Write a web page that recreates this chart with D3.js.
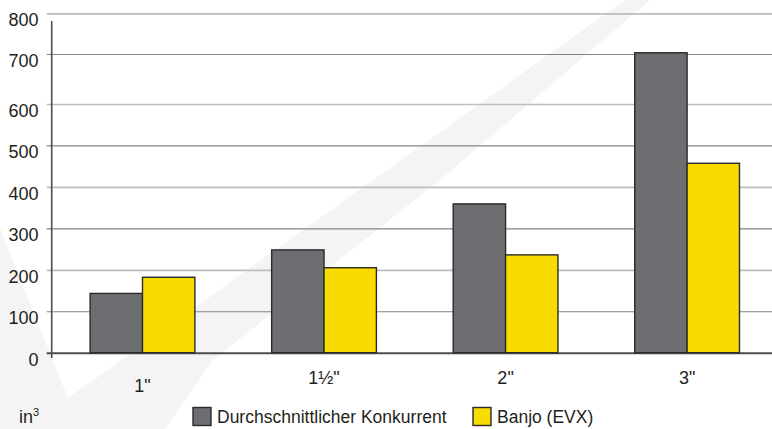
<!DOCTYPE html>
<html><head><meta charset="utf-8">
<script src="https://cdn.jsdelivr.net/npm/d3@7"></script>
<style>
body{margin:0;background:#fff}
svg{display:block}
text{font-family:"Liberation Sans",Arial,Helvetica,sans-serif;fill:#231f20}
</style>
</head><body><svg id="c" width="772" height="429"></svg>
<script>
const categories = ['1"', '1\u00BD"', '2"', '3"'];
const seriesNames = ["Durchschnittlicher Konkurrent", "Banjo (EVX)"];
const competitor = [143, 248, 359, 703];
const banjo = [182, 205, 236, 457];
const yTicks = [0, 100, 200, 300, 400, 500, 600, 700, 800];
const unitLabel = "in";
const unitSup = "3";
const colors = ["#6d6e71", "#f8db00"];

const W = 772, H = 429;
const svg = d3.select("#c");

// faint background watermark
svg.append("polygon")
  .attr("points", [[0,228],[68,398],[625,0],[650,0],[440,180],[213,360],[165,429],[0,429]].map(p=>p.join(",")).join(" "))
  .attr("fill", "#f4f4f4");

const y = d3.scaleLinear().domain([0, 600, 700, 800]).range([352.7, 104, 54, 13.3]);
const x0 = d3.scaleBand().domain(categories).range([52, 777.6]).paddingInner(0.423).paddingOuter(0.21);
const x1 = d3.scaleBand().domain(seriesNames).range([0, x0.bandwidth()]);

// grid + y labels
const gAxis = svg.append("g").attr("transform", "translate(46.7,0)")
  .call(d3.axisLeft(y).tickValues(yTicks).tickSize(-(W - 46.7)).tickPadding(8.2).tickFormat(d3.format("d")));
gAxis.select(".domain").remove();
gAxis.selectAll(".tick line")
  .attr("stroke", d => d === 0 ? "#4d4d4d" : ((d / 100) % 2 ? "#858585" : "#bdbdbd"))
  .attr("stroke-width", d => d === 0 ? 2 : ((d / 100) % 2 ? 1.2 : 1.7));
gAxis.selectAll(".tick text")
  .attr("dy", 12.5).attr("font-size", 18).attr("fill", "#231f20")
  .style("font-family", '"Liberation Sans",Arial,sans-serif');

// vertical axis line
svg.append("line").attr("x1", 51.7).attr("x2", 51.7).attr("y1", 21).attr("y2", 358)
  .attr("stroke", "#4d4d4d").attr("stroke-width", 1.6);

// bars
const rows = categories.map((c, i) => ({c, vals: [competitor[i], banjo[i]]}));
const groups = svg.append("g").selectAll("g").data(rows).join("g")
  .attr("transform", d => `translate(${x0(d.c)},0)`);
groups.selectAll("rect").data(d => d.vals.map((v, j) => ({s: seriesNames[j], v, j}))).join("rect")
  .attr("x", d => x1(d.s)).attr("width", x1.bandwidth())
  .attr("y", d => y(d.v)).attr("height", d => y(0) - y(d.v))
  .attr("fill", d => colors[d.j]).attr("stroke", "#2b2b2b").attr("stroke-width", 1.4);

// category labels
const gx = svg.append("g").attr("transform", `translate(0,${y(0)})`)
  .call(d3.axisBottom(x0).tickSize(0).tickPadding(0));
gx.select(".domain").remove();
gx.selectAll(".tick text")
  .attr("y", (d, i) => i === 0 ? 39 : 31.5).attr("dy", 0)
  .attr("font-size", 18).attr("fill", "#231f20")
  .style("font-family", '"Liberation Sans",Arial,sans-serif');

// unit label
const ut = svg.append("text").attr("x", 19).attr("y", 423).attr("font-size", 18);
ut.append("tspan").text(unitLabel);
ut.append("tspan").attr("font-size", 11).attr("dy", -7).text(unitSup);

// legend
const legX = [193, 473];
seriesNames.forEach((s, j) => {
  svg.append("rect").attr("x", legX[j]).attr("y", 407.5).attr("width", 18).attr("height", 18)
    .attr("fill", colors[j]).attr("stroke", "#2b2b2b").attr("stroke-width", 1.4);
  svg.append("text").attr("x", legX[j] + 24).attr("y", 423).attr("font-size", 17.5).text(s);
});
</script>
</body></html>
